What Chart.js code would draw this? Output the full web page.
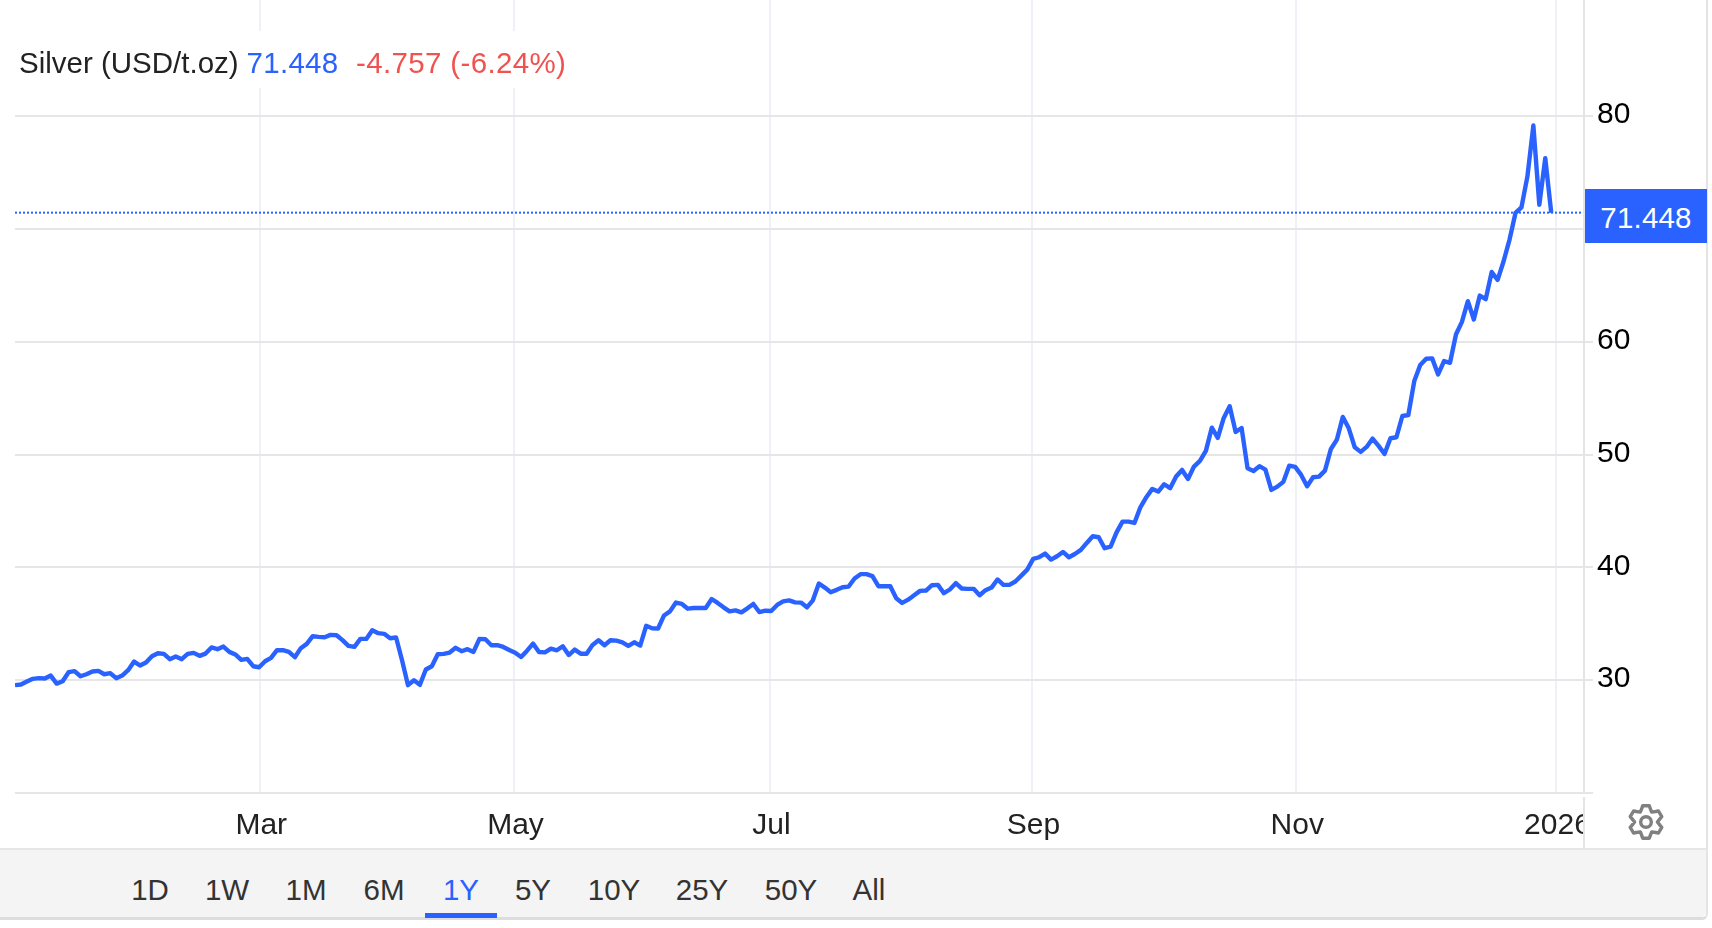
<!DOCTYPE html>
<html lang="en">
<head>
<meta charset="UTF-8" />
<title>Silver (USD/t.oz)</title>
<script src="https://cdn.jsdelivr.net/npm/chart.js"></script>
<style>
  html, body { margin: 0; background: #fff; }
  body { width: 1712px; height: 928px; position: relative; overflow: hidden; font-family: "Liberation Sans", Arial, sans-serif; font-size: 29.5px; }
  #frame { position: absolute; left: 0; top: 0; width: 1706px; height: 917px; border-right: 2px solid #e4e4e4; border-bottom: 3px solid #ddd; border-bottom-right-radius: 6px; }
  canvas { position: absolute; left: 0; top: 0; }
  #legend { position: absolute; left: 15px; top: 31px; width: 556px; height: 57px; background: #fff; line-height: 64px; white-space: nowrap; color: #222; }
  #legend span { position: absolute; top: 0; }
  #tabs { position: absolute; left: 0; top: 848px; width: 1706px; height: 69px; background: #f4f4f4; border-top: 2px solid #e6e6e6; box-sizing: border-box; border-bottom-right-radius: 5px; }
  #tabs span { position: absolute; top: 19px; line-height: 42px; transform: translateX(-50%); color: #333; }
  #tabs span.on { color: #2962ff; }
  #tabs i { position: absolute; left: 425px; top: 63px; width: 72px; height: 5px; background: #2962ff; }
  #badge { position: absolute; left: 1585px; top: 189px; width: 122px; height: 54px; background: #2962ff; color: #fff; text-align: center; line-height: 58px; letter-spacing: .2px; }
  #gear { position: absolute; left: 1627px; top: 803px; }
</style>
</head>
<body>
<div id="frame">
  <canvas id="silver" width="1706" height="848"></canvas>
  <div id="legend">
    <span style="left:4px">Silver (USD/t.oz)</span>
    <span style="left:231.5px;color:#2962ff;letter-spacing:.3px">71.448</span>
    <span style="left:341px;color:#ef5350;letter-spacing:.35px">-4.757 (-6.24%)</span>
  </div>
  <div id="badge">71.448</div>
  <svg id="gear" width="38" height="38" viewBox="-20 -20 40 40"></svg>
  <div id="tabs"></div>
</div>
<script>
const prices = [
  29.56,29.62,29.88,30.12,30.18,30.15,30.41,29.70,29.91,30.71,30.80,30.35,30.53,30.77,30.83,30.53,30.62,30.18,30.41,30.89,
  31.65,31.30,31.57,32.13,32.39,32.33,31.86,32.10,31.86,32.33,32.42,32.16,32.36,32.90,32.75,32.98,32.51,32.28,31.80,31.89,
  31.24,31.15,31.68,31.98,32.66,32.66,32.51,32.04,32.84,33.22,33.90,33.84,33.81,34.02,33.99,33.55,33.04,32.96,33.66,33.66,
  34.43,34.17,34.11,33.72,33.78,31.77,29.56,30.00,29.59,30.95,31.24,32.30,32.33,32.45,32.87,32.57,32.75,32.51,33.66,33.63,
  33.10,33.10,32.95,32.68,32.44,32.05,32.62,33.24,32.50,32.47,32.80,32.65,33.01,32.23,32.71,32.35,32.35,33.13,33.54,33.10,
  33.54,33.51,33.36,33.04,33.36,33.07,34.82,34.61,34.58,35.74,36.10,36.88,36.76,36.34,36.40,36.40,36.40,37.20,36.85,36.46,
  36.10,36.19,36.01,36.37,36.76,36.04,36.16,36.13,36.67,36.99,37.08,36.90,36.88,36.46,37.08,38.57,38.21,37.80,38.01,38.24,
  38.30,39.02,39.40,39.40,39.23,38.33,38.33,38.33,37.26,36.85,37.14,37.53,37.92,37.95,38.42,38.45,37.71,38.04,38.60,38.13,
  38.10,38.10,37.53,37.98,38.21,38.93,38.45,38.45,38.75,39.27,39.80,40.75,40.90,41.22,40.69,40.99,41.37,40.90,41.19,41.55,
  42.17,42.76,42.67,41.70,41.84,43.11,44.06,44.06,43.94,45.33,46.22,46.96,46.72,47.37,47.02,48.05,48.64,47.84,48.94,49.44,
  50.33,52.39,51.48,53.25,54.28,52.01,52.36,48.79,48.55,48.97,48.67,46.87,47.16,47.58,49.02,48.91,48.20,47.19,47.99,48.05,
  48.58,50.50,51.33,53.34,52.33,50.65,50.24,50.68,51.42,50.77,50.06,51.45,51.54,53.42,53.51,56.52,57.94,58.50,58.53,57.11,
  58.29,58.14,60.65,61.77,63.60,61.98,64.10,63.78,66.19,65.49,67.14,69.06,71.42,71.92,74.66,79.17,72.15,76.28,71.448
];
const lastPrice = 71.448;
const monthLabels = ['Mar', 'May', 'Jul', 'Sep', 'Nov', '2026'];
const monthPos = [41.1, 83.8, 126.8, 170.8, 215.1, 258.8];
const yTicks = [20, 30, 40, 50, 60, 70, 80];
const tabs = ['1D', '1W', '1M', '6M', '1Y', '5Y', '10Y', '25Y', '50Y', 'All'];
const tabCenters = [150, 227, 306, 384, 461, 533, 614, 702, 791, 869];

const FONT = { family: '"Liberation Sans", Arial, sans-serif', size: 30 };

// range buttons
const tabsEl = document.getElementById('tabs');
tabs.forEach((t, i) => {
  const s = document.createElement('span');
  s.textContent = t;
  s.style.left = tabCenters[i] + 'px';
  if (t === '1Y') s.className = 'on';
  tabsEl.appendChild(s);
});
tabsEl.appendChild(document.createElement('i'));

// settings icon, six teeth
let gearPath = '';
for (let k = 0; k < 6; k++) {
  const a = -Math.PI / 2 + k * Math.PI / 3;
  [[-0.3, 15], [-0.2, 17.5], [0.2, 17.5], [0.3, 15], [0.52, 12]].forEach(([d, r], n) => {
    gearPath += (k === 0 && n === 0 ? 'M' : 'L') + (r * Math.cos(a + d)).toFixed(2) + ' ' + (r * Math.sin(a + d)).toFixed(2);
  });
}
document.getElementById('gear').innerHTML =
  '<path d="' + gearPath + 'Z" fill="none" stroke="#808080" stroke-width="3.6" stroke-linejoin="round"/>' +
  '<circle r="5.6" fill="none" stroke="#808080" stroke-width="3.6"/>';

// vertical rule between plot and price axis, it also cuts off the 2026 label
const priceRule = {
  id: 'priceRule',
  afterDraw(chart) {
    const c = chart.ctx;
    c.save();
    c.fillStyle = '#fff';
    c.fillRect(1585, 800, 14, 48);
    c.fillStyle = '#e4e4e4';
    c.fillRect(1583, 0, 2, 792);
    c.fillRect(1583, 797, 2, 51);
    c.restore();
  }
};

new Chart(document.getElementById('silver'), {
  type: 'line',
  plugins: [priceRule],
  data: {
    datasets: [
      {
        data: prices.map((p, i) => ({ x: i, y: p })),
        borderColor: '#2962ff', borderWidth: 4.4, pointRadius: 0, tension: 0,
        borderJoinStyle: 'round', order: 1
      },
      {
        data: [{ x: 0, y: lastPrice }, { x: 263, y: lastPrice }],
        borderColor: '#2962ff', borderWidth: 2, borderDash: [2, 2], pointRadius: 0, order: 2
      }
    ]
  },
  options: {
    responsive: false,
    animation: false,
    devicePixelRatio: 1,
    layout: { padding: { left: 15, right: 0, top: 0, bottom: 0 } },
    plugins: { legend: { display: false }, tooltip: { enabled: false } },
    scales: {
      x: {
        type: 'linear', min: 0, max: 263,
        afterBuildTicks: s => { s.ticks = monthPos.map(v => ({ value: v })); },
        afterFit: s => { s.height = 55; s.paddingLeft = 0; s.paddingRight = 0; },
        grid: { color: '#eef2f6', lineWidth: 2, drawTicks: false },
        border: { display: false },
        ticks: {
          autoSkip: false, maxRotation: 0, padding: 15, labelOffset: 1.5, color: '#222', font: FONT,
          callback: (v, i) => monthLabels[i]
        }
      },
      y: {
        position: 'right', min: 20, max: 90.3,
        afterBuildTicks: s => { s.ticks = yTicks.map(v => ({ value: v })); },
        afterFit: s => { s.width = 125; s.paddingTop = 0; s.paddingBottom = 0; },
        grid: { color: '#e6e6e6', lineWidth: 2, tickLength: 12 },
        border: { display: false },
        ticks: {
          padding: 4, labelOffset: -1, color: '#000', font: FONT,
          callback: v => (v === 20 ? '' : v)
        }
      }
    }
  }
});
</script>
</body>
</html>
